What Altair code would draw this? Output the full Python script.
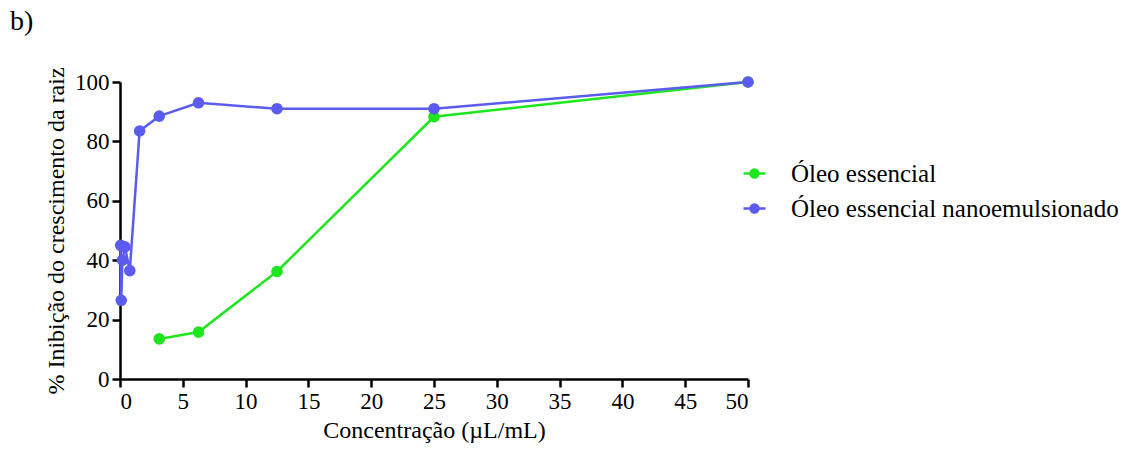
import altair as alt
import pandas as pd

series_names = ["Óleo essencial", "Óleo essencial nanoemulsionado"]
conc_green = [3.125, 6.25, 12.5, 25, 50]
val_green = [13.5, 15.8, 36.2, 88.3, 100]
conc_blue = [0.049, 0.098, 0.195, 0.39, 0.78, 1.56, 3.125, 6.25, 12.5, 25, 50]
val_blue = [45.0, 26.5, 40.0, 44.5, 36.5, 83.5, 88.5, 93.0, 91.0, 91.0, 100.0]
x_ticks = [0, 5, 10, 15, 20, 25, 30, 35, 40, 45, 50]
y_ticks = [0, 20, 40, 60, 80, 100]
colors = ["#1ee61e", "#5b5bf0"]
panel_label = ["b)"]

rows = []
for i, (c, v) in enumerate(zip(conc_green, val_green)):
    rows.append({"conc": c, "val": v, "serie": series_names[0], "o": i})
for i, (c, v) in enumerate(zip(conc_blue, val_blue)):
    rows.append({"conc": c, "val": v, "serie": series_names[1], "o": i})
df = pd.DataFrame(rows)

FONT = "'Liberation Serif', 'Times New Roman', 'DejaVu Serif', serif"

x = alt.X("conc:Q", scale=alt.Scale(domain=[0, 50], nice=False, zero=False),
          axis=alt.Axis(values=x_ticks, title="Concentração (µL/mL)", format="d"))
y = alt.Y("val:Q", scale=alt.Scale(domain=[0, 100], nice=False),
          axis=alt.Axis(values=y_ticks, title="% Inibição do crescimento da raiz", format="d"))
color = alt.Color("serie:N", scale=alt.Scale(domain=series_names, range=colors),
                  legend=alt.Legend(title=None, orient="none", legendX=622, legendY=79,
                                    symbolType="M-1,0H1M-0.36,0a0.36,0.36 0 1,0 0.72,0a0.36,0.36 0 1,0 -0.72,0",
                                    symbolSize=484, symbolStrokeWidth=2.5,
                                    labelFont=FONT, labelFontSize=25, labelColor="black",
                                    rowPadding=9, labelOffset=24, labelLimit=600))

base = alt.Chart(df).encode(x=x, y=y, color=color, order="o:Q")
lines = base.mark_line(strokeWidth=2.5)
pts = base.mark_point(filled=True, size=135, opacity=1)

label = alt.Chart(pd.DataFrame({"t": panel_label})).mark_text(
    font=FONT, fontSize=28, align="left", baseline="alphabetic", color="black"
).encode(text="t:N", x=alt.value(-110), y=alt.value(-52))

chart = alt.layer(lines, pts, label).properties(
    width=628, height=297,
    autosize=alt.AutoSizeParams(type="none"),
    padding={"left": 120, "top": 82, "right": 386, "bottom": 73},
).configure_view(stroke=None).configure_axis(
    grid=False, domainColor="black", domainWidth=2.5, tickColor="black", tickWidth=2.5,
    tickSize=8, labelFont=FONT, labelFontSize=23, labelColor="black", labelPadding=3,
    titleFont=FONT, titleFontSize=24, titleColor="black", titleFontWeight="normal",
).configure_axisX(titlePadding=5).configure_axisY(titlePadding=6)

chart.save("out.html", embed_options={"renderer": "svg", "actions": False})
